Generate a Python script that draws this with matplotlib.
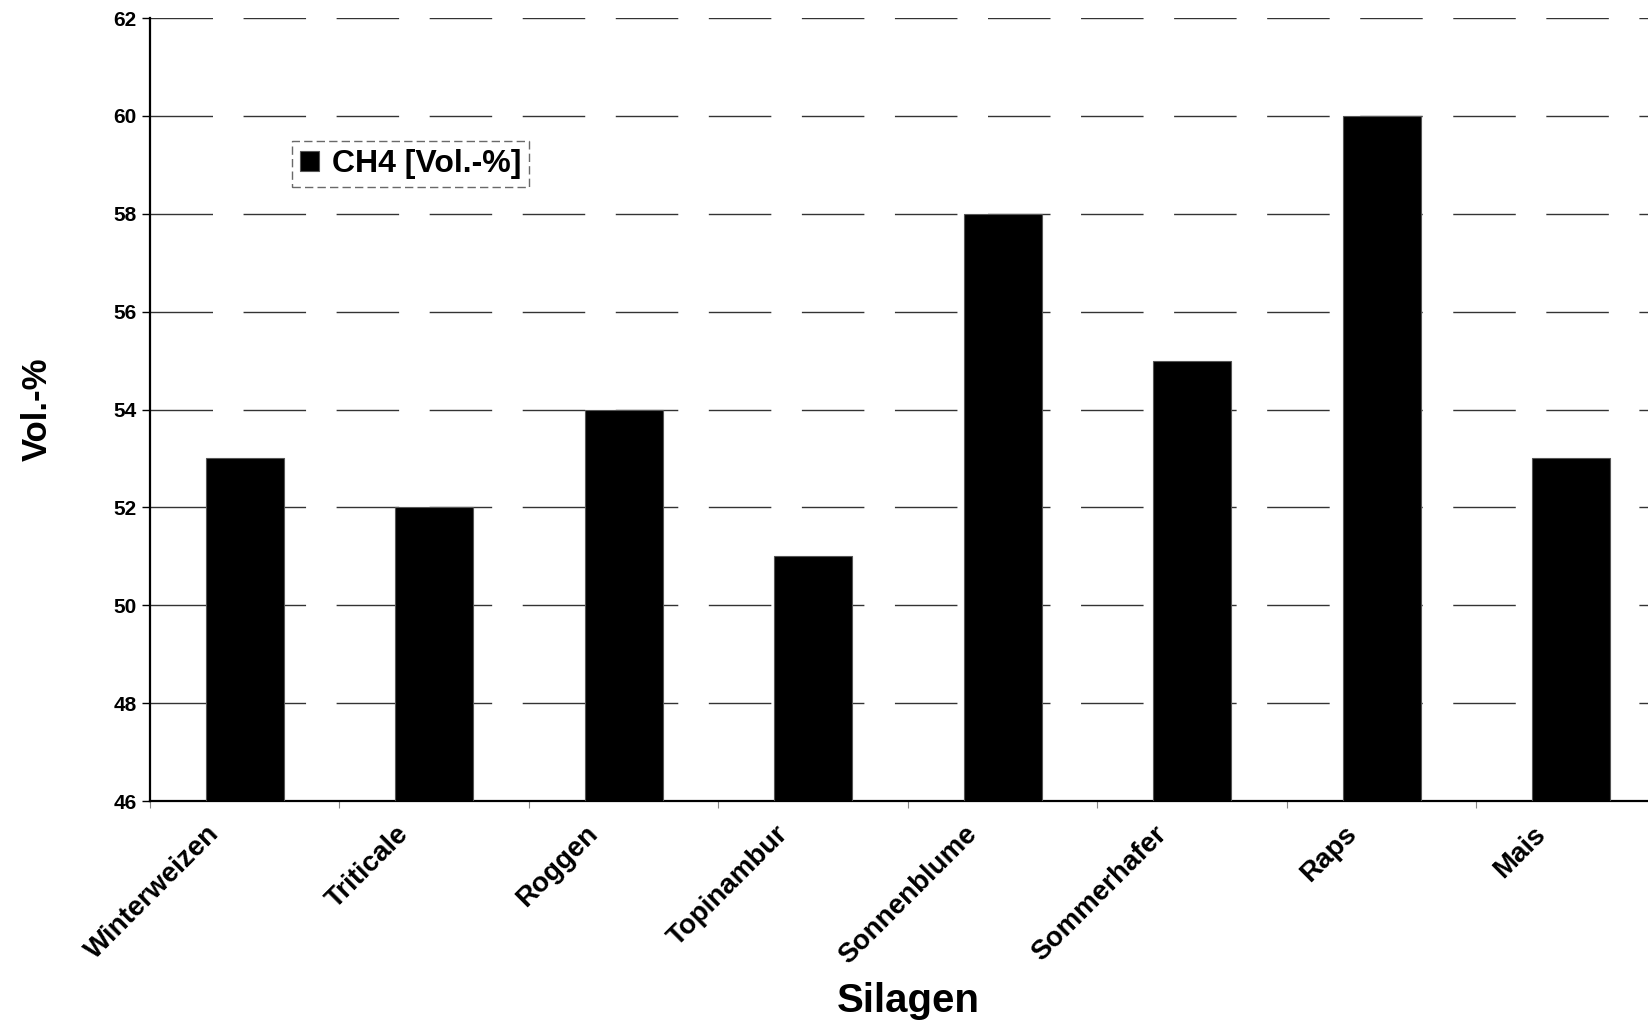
import matplotlib.pyplot as plt

# CH4-Gehalt der Silagen
silagen = ["Winterweizen", "Triticale", "Roggen", "Topinambur",
           "Sonnenblume", "Sommerhafer", "Raps", "Mais"]
ch4 = [53, 52, 54, 51, 58, 55, 60, 53]

plt.rcParams['font.family'] = ['Liberation Sans', 'DejaVu Sans']
plt.rcParams['font.weight'] = 'bold'

fig = plt.figure(figsize=(16.49, 10.22), dpi=100)
# axes run slightly past the right edge, like the scanned original
ax = fig.add_axes([150 / 1649, 1 - 801 / 1022, 1516 / 1649, (801 - 18) / 1022])

x = list(range(len(silagen)))
ax.bar(x, ch4, width=0.41, color='black', edgecolor='#555555',
       linewidth=0.8, label="CH4 [Vol.-%]", zorder=3)

ax.set_ylim(46, 62)
ax.set_xlim(-0.5, len(silagen) - 0.5)
ax.set_yticks(range(46, 63, 2))
# labels end a little left of the bar centre in the original
label_shift = 0.155
ax.set_xticks([i - label_shift for i in x])
ax.set_xticklabels(silagen, rotation=45, ha='right', va='center',
                   rotation_mode='anchor', fontsize=20, fontweight='bold')
ax.set_xticks([i + 0.5 for i in range(-1, len(silagen))], minor=True)
ax.tick_params(axis='x', which='major', length=0, pad=21)
ax.tick_params(axis='x', which='minor', length=5, width=0.8, color='#888888')
ax.tick_params(axis='y', length=6, width=1, labelsize=15)
for lbl in ax.get_yticklabels():
    lbl.set_fontweight('bold')

ax.yaxis.grid(True, color='#333333', linewidth=1.0, linestyle=(0, (45, 22)), zorder=0)
ax.set_axisbelow(True)

for side in ['top', 'right']:
    ax.spines[side].set_visible(False)
ax.spines['left'].set_linewidth(1.6)
ax.spines['bottom'].set_linewidth(1.6)

ax.set_ylabel("Vol.-%", fontsize=25, fontweight='bold', labelpad=43)
ax.set_xlabel("Silagen", fontsize=29, fontweight='bold', labelpad=9)

leg = ax.legend(loc='upper left', bbox_to_anchor=(142 / 1516, (801 - 141) / 783),
                fontsize=23, frameon=True, fancybox=False, handlelength=0.6,
                handleheight=0.6, handletextpad=0.4, borderpad=0.25,
                borderaxespad=0)
leg.get_frame().set_edgecolor('#444444')
leg.get_frame().set_linestyle((0, (6, 3)))
leg.get_frame().set_linewidth(1)
for t in leg.get_texts():
    t.set_fontweight('bold')

fig.savefig("out.png", dpi=100)
